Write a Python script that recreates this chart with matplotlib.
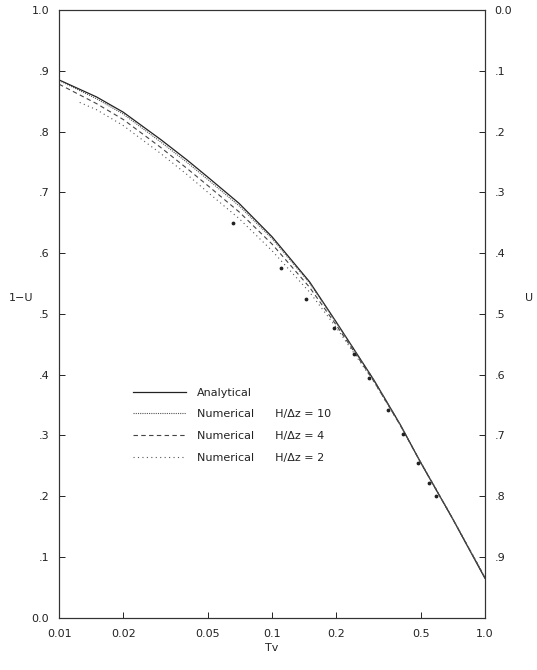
import numpy as np
import matplotlib.pyplot as plt

# time factor values where curves were read
tv = [0.01, 0.015, 0.02, 0.03, 0.04, 0.05, 0.07, 0.1, 0.15, 0.2, 0.3, 0.4, 0.5, 0.7, 1.0]
analytical = [0.885, 0.857, 0.832, 0.787, 0.753, 0.725, 0.682, 0.627, 0.553, 0.487, 0.392, 0.318, 0.255, 0.165, 0.065]
num_h10 = [0.884, 0.854, 0.829, 0.783, 0.749, 0.721, 0.678, 0.624, 0.551, 0.486, 0.392, 0.318, 0.255, 0.165, 0.066]
num_h4 = [0.878, 0.846, 0.820, 0.774, 0.739, 0.711, 0.668, 0.615, 0.544, 0.482, 0.390, 0.317, 0.255, 0.165, 0.066]

tv_h2 = [0.0125, 0.015, 0.02, 0.03, 0.04, 0.05, 0.07, 0.1, 0.15, 0.2, 0.3, 0.4, 0.5, 0.7, 1.0]
num_h2 = [0.848, 0.836, 0.810, 0.764, 0.729, 0.700, 0.657, 0.604, 0.536, 0.478, 0.389, 0.317, 0.256, 0.166, 0.067]

# loose points near the curves
pts_tv = [0.0656, 0.110, 0.144, 0.196, 0.243, 0.285, 0.351, 0.412, 0.485, 0.546, 0.589]
pts_val = [0.649, 0.576, 0.525, 0.477, 0.434, 0.394, 0.342, 0.302, 0.254, 0.221, 0.200]

x_ticks = [0.01, 0.02, 0.05, 0.1, 0.2, 0.5, 1.0]
x_labels = ['0.01', '0.02', '0.05', '0.1', '0.2', '0.5', '1.0']
y_ticks = [0.0, 0.1, 0.2, 0.3, 0.4, 0.5, 0.6, 0.7, 0.8, 0.9, 1.0]
left_labels = ['0.0', '.1', '.2', '.3', '.4', '.5', '.6', '.7', '.8', '.9', '1.0']
right_labels = ['', '.9', '.8', '.7', '.6', '.5', '.4', '.3', '.2', '.1', '0.0']

ink = '#222222'
plt.rcParams['font.family'] = ['DejaVu Sans']

fig = plt.figure(figsize=(5.37, 6.70), dpi=100)
ax = fig.add_axes([0.110, 0.078, 0.793, 0.907])

ax.plot(tv, analytical, color=ink, lw=0.9, ls='-', label='Analytical')
ax.plot(tv, num_h10, color='#555555', lw=0.8, ls=(0, (1, 1)), label='Numerical      H/\u0394z = 10')
ax.plot(tv, num_h4, color='#444444', lw=0.8, ls=(0, (4, 3)), label='Numerical      H/\u0394z = 4')
ax.plot(tv_h2, num_h2, color='#555555', lw=0.8, ls=(0, (1, 3)), label='Numerical      H/\u0394z = 2')
ax.scatter(pts_tv, pts_val, s=3, color=ink, zorder=3)

ax.set_xscale('log')
ax.set_xlim(0.01, 1.0)
ax.set_ylim(0.0, 1.0)

ax.set_xticks(x_ticks)
ax.set_xticklabels(x_labels)
ax.xaxis.set_minor_locator(plt.NullLocator())
ax.set_yticks(y_ticks)
ax.set_yticklabels(left_labels)
ax.tick_params(axis='both', direction='in', length=4, width=0.7, colors=ink,
               labelsize=8, pad=7)
ax.tick_params(axis='x', pad=8)

axr = ax.twinx()
axr.set_ylim(0.0, 1.0)
axr.set_yticks(y_ticks)
axr.set_yticklabels(right_labels)
axr.tick_params(axis='y', direction='in', length=4, width=0.7, colors=ink,
                labelsize=8, pad=7)

for a in (ax, axr):
    for s in a.spines.values():
        s.set_linewidth(0.8)
        s.set_color('#333333')

ax.set_xlabel('Tv', fontsize=8, color=ink, labelpad=3)
# axis titles placed as figure text so they stay inside the canvas
fig.text(0.040, 0.555, '1\u2212U', fontsize=8, color=ink, ha='center', va='center')
fig.text(0.985, 0.555, 'U', fontsize=8, color=ink, ha='center', va='center')

leg = ax.legend(loc='upper left', bbox_to_anchor=(0.15, 0.395), frameon=False,
                fontsize=8, handlelength=4.8, handletextpad=1.0,
                labelspacing=1.05, labelcolor=ink)

fig.savefig('out.png', dpi=100)
